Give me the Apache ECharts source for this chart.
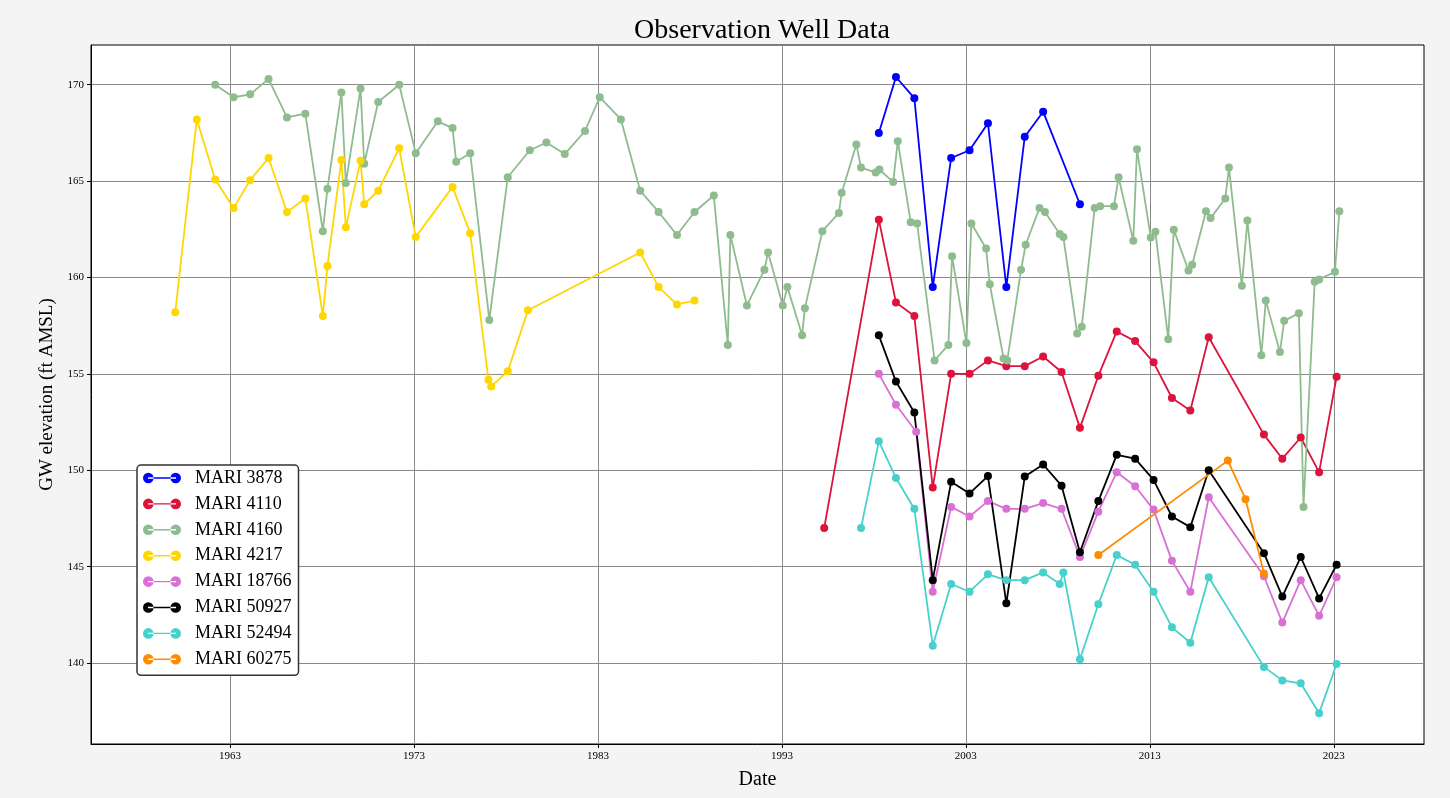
<!DOCTYPE html>
<html>
<head>
<meta charset="utf-8">
<title>Observation Well Data</title>
<script src="https://cdn.jsdelivr.net/npm/echarts@6/dist/echarts.min.js"></script>
<style>
  html, body { margin: 0; padding: 0; background: #f4f4f4; }
  #chart { width: 1450px; height: 798px; }
</style>
</head>
<body>
<div id="chart"></div>
<script>
// well names and colours, legend order
var wells = ['MARI 3878', 'MARI 4110', 'MARI 4160', 'MARI 4217', 'MARI 18766', 'MARI 50927', 'MARI 52494', 'MARI 60275'];
var colors = ['#0000ff', '#dc143c', '#8fbc8f', '#ffd700', '#da70d6', '#000000', '#48d1cc', '#ff8c00'];

// tick labels
var xTicks = [1963, 1973, 1983, 1993, 2003, 2013, 2023];
var yTicks = [140, 145, 150, 155, 160, 165, 170];

// [decimal year, GW elevation ft AMSL]
var mari3878 = [[1998.27,167.5],[1999.2,170.4],[2000.2,169.3],[2001.2,159.5],[2002.2,166.2],[2003.2,166.6],
  [2004.2,168.0],[2005.2,159.5],[2006.2,167.3],[2007.2,168.6],[2009.2,163.8]];

var mari4110 = [[1995.3,147.0],[1998.27,163.0],[1999.2,158.7],[2000.2,158.0],[2001.2,149.1],[2002.2,155.0],
  [2003.2,155.0],[2004.2,155.7],[2005.2,155.4],[2006.2,155.4],[2007.2,155.9],[2008.2,155.1],[2009.2,152.2],
  [2010.2,154.9],[2011.2,157.2],[2012.2,156.7],[2013.2,155.6],[2014.2,153.75],[2015.2,153.1],[2016.2,156.9],
  [2019.2,151.85],[2020.2,150.6],[2021.2,151.7],[2022.2,149.9],[2023.15,154.85]];

var mari4160 = [[1962.2,170.0],[1963.2,169.35],[1964.1,169.5],[1965.1,170.3],[1966.1,168.3],[1967.1,168.5],
  [1968.05,162.4],[1968.3,164.6],[1969.06,169.6],[1969.3,164.9],[1970.1,169.8],[1970.3,165.9],[1971.06,169.1],
  [1972.2,170.0],[1973.1,166.45],[1974.3,168.1],[1975.1,167.75],[1975.3,166.0],[1976.06,166.45],[1977.1,157.8],
  [1978.1,165.2],[1979.3,166.6],[1980.2,167.0],[1981.2,166.4],[1982.3,167.6],[1983.1,169.35],[1984.25,168.2],
  [1985.3,164.5],[1986.3,163.4],[1987.3,162.2],[1988.25,163.4],[1989.3,164.25],[1990.06,156.5],[1990.2,162.2],
  [1991.1,158.55],[1992.05,160.4],[1992.25,161.3],[1993.05,158.55],[1993.3,159.5],[1994.1,157.0],[1994.25,158.4],
  [1995.2,162.4],[1996.1,163.35],[1996.25,164.4],[1997.05,166.9],[1997.3,165.7],[1998.1,165.45],[1998.3,165.6],
  [1999.05,164.95],[1999.3,167.07],[2000.0,162.87],[2000.35,162.8],[2001.3,155.7],[2002.05,156.5],[2002.25,161.1],
  [2003.03,156.6],[2003.3,162.8],[2004.1,161.5],[2004.3,159.65],[2005.05,155.8],[2005.25,155.7],[2006.0,160.4],
  [2006.25,161.7],[2007.0,163.6],[2007.3,163.4],[2008.1,162.25],[2008.3,162.1],[2009.05,157.1],[2009.3,157.45],
  [2010.0,163.6],[2010.3,163.7],[2011.05,163.7],[2011.3,165.2],[2012.1,161.9],[2012.3,166.65],[2013.05,162.07],
  [2013.3,162.37],[2014.0,156.8],[2014.3,162.47],[2015.1,160.36],[2015.3,160.66],[2016.05,163.44],[2016.3,163.08],
  [2017.1,164.1],[2017.3,165.7],[2018.0,159.57],[2018.3,162.95],[2019.06,155.96],[2019.3,158.8],[2020.07,156.13],
  [2020.3,157.75],[2021.1,158.15],[2021.35,148.1],[2021.96,159.78],[2022.2,159.9],[2023.06,160.3],[2023.3,163.44]];

var mari4217 = [[1960.03,158.2],[1961.2,168.2],[1962.2,165.08],[1963.2,163.6],[1964.1,165.05],[1965.1,166.2],
  [1966.1,163.4],[1967.1,164.1],[1968.05,158.0],[1968.3,160.6],[1969.06,166.1],[1969.3,162.6],[1970.1,166.06],
  [1970.3,163.8],[1971.06,164.5],[1972.2,166.7],[1973.1,162.1],[1975.1,164.7],[1976.06,162.3],[1977.05,154.7],
  [1977.2,154.35],[1978.1,155.13],[1979.2,158.3],[1985.3,161.3],[1986.3,159.5],[1987.3,158.6],[1988.25,158.8]];

var mari18766 = [[1998.27,155.0],[1999.2,153.4],[2000.3,152.0],[2001.2,143.7],[2002.2,148.1],[2003.2,147.6],
  [2004.2,148.4],[2005.2,148.0],[2006.2,148.0],[2007.2,148.3],[2008.2,148.0],[2009.2,145.5],[2010.2,147.85],
  [2011.2,149.9],[2012.2,149.17],[2013.2,147.96],[2014.2,145.3],[2015.2,143.7],[2016.2,148.6],[2019.2,144.5],
  [2020.2,142.1],[2021.2,144.3],[2022.2,142.45],[2023.15,144.45]];

var mari50927 = [[1998.27,157.0],[1999.2,154.6],[2000.2,153.0],[2001.2,144.3],[2002.2,149.4],[2003.2,148.8],
  [2004.2,149.7],[2005.2,143.1],[2006.2,149.67],[2007.2,150.3],[2008.2,149.2],[2009.2,145.75],[2010.2,148.4],
  [2011.2,150.8],[2012.2,150.6],[2013.2,149.5],[2014.2,147.6],[2015.2,147.05],[2016.2,150.0],[2019.2,145.7],
  [2020.2,143.45],[2021.2,145.5],[2022.2,143.35],[2023.15,145.1]];

var mari52494 = [[1997.3,147.0],[1998.27,151.5],[1999.2,149.6],[2000.2,148.0],[2001.2,140.9],[2002.2,144.1],
  [2003.2,143.7],[2004.2,144.6],[2005.2,144.3],[2006.2,144.3],[2007.2,144.7],[2008.1,144.1],[2008.3,144.7],
  [2009.2,140.2],[2010.2,143.05],[2011.2,145.6],[2012.2,145.1],[2013.2,143.7],[2014.2,141.85],[2015.2,141.05],
  [2016.2,144.45],[2019.2,139.8],[2020.2,139.1],[2021.2,138.95],[2022.2,137.4],[2023.15,139.95]];

var mari60275 = [[2010.2,145.6],[2017.24,150.5],[2018.2,148.5],[2019.2,144.65]];

var wellData = [mari3878, mari4110, mari4160, mari4217, mari18766, mari50927, mari52494, mari60275];

var serif = '"Liberation Serif", "DejaVu Serif", serif';
// legend marker: line with a dot at each end
var legendIcon = 'path://M0,5.3 A5.3,5.3 0 1,0 10.6,5.3 A5.3,5.3 0 1,0 0,5.3 Z ' +
  'M27.4,5.3 A5.3,5.3 0 1,0 38,5.3 A5.3,5.3 0 1,0 27.4,5.3 Z M5,4.6 L33,4.6 L33,6 L5,6 Z';

var chart = echarts.init(document.getElementById('chart'));

var series = [];
for (var i = 0; i < wells.length; i++) {
  series.push({
    name: wells[i],
    type: 'line',
    data: wellData[i],
    symbol: 'circle',
    symbolSize: 8,
    showSymbol: true,
    color: colors[i],
    lineStyle: { width: 1.8, color: colors[i] },
    itemStyle: { color: colors[i] },
    emphasis: { disabled: true }
  });
}

function plainYear(v) { return String(v); }

chart.setOption({
  backgroundColor: '#f4f4f4',
  animation: false,
  title: {
    text: 'Observation Well Data',
    left: 757, top: 12,
    textAlign: 'center',
    textStyle: { fontFamily: serif, fontSize: 28, fontWeight: 'normal', color: '#000' }
  },
  legend: {
    data: wells,
    orient: 'vertical',
    left: 137, top: 465,
    icon: legendIcon,
    itemWidth: 38, itemHeight: 10.6,
    itemGap: 7.9,
    padding: [4, 7, 7, 6],
    backgroundColor: '#fff',
    borderColor: '#333',
    borderWidth: 1.5,
    borderRadius: 4,
    textStyle: { fontFamily: serif, fontSize: 18, color: '#000', padding: [0, 0, 0, 9] }
  },
  grid: {
    left: 91, right: 26, top: 45, bottom: 54,
    show: true, backgroundColor: '#fff', borderColor: '#000', borderWidth: 1
  },
  xAxis: {
    type: 'value',
    min: 1955.45, max: 2027.9,
    name: 'Date',
    nameLocation: 'middle',
    nameGap: 26,
    nameTextStyle: { fontFamily: serif, fontSize: 20, color: '#000' },
    axisLine: { show: true, lineStyle: { color: '#000', width: 1 } },
    axisTick: { show: true, length: 4, customValues: xTicks, lineStyle: { color: '#000' } },
    axisLabel: { customValues: xTicks, formatter: plainYear, fontFamily: serif, fontSize: 11, color: '#000', margin: 7 },
    splitLine: { show: true, lineStyle: { color: '#8a8a8a', width: 1 } }
  },
  yAxis: {
    type: 'value',
    min: 135.8, max: 172.06,
    name: 'GW elevation (ft AMSL)',
    nameLocation: 'middle',
    nameGap: 28,
    nameTextStyle: { fontFamily: serif, fontSize: 19, color: '#000' },
    axisLine: { show: true, lineStyle: { color: '#000', width: 1 } },
    axisTick: { show: true, length: 4, customValues: yTicks, lineStyle: { color: '#000' } },
    axisLabel: { customValues: yTicks, fontFamily: serif, fontSize: 11, color: '#000', margin: 7 },
    splitLine: { show: true, lineStyle: { color: '#8a8a8a', width: 1 } }
  },
  series: series
});
</script>
</body>
</html>
